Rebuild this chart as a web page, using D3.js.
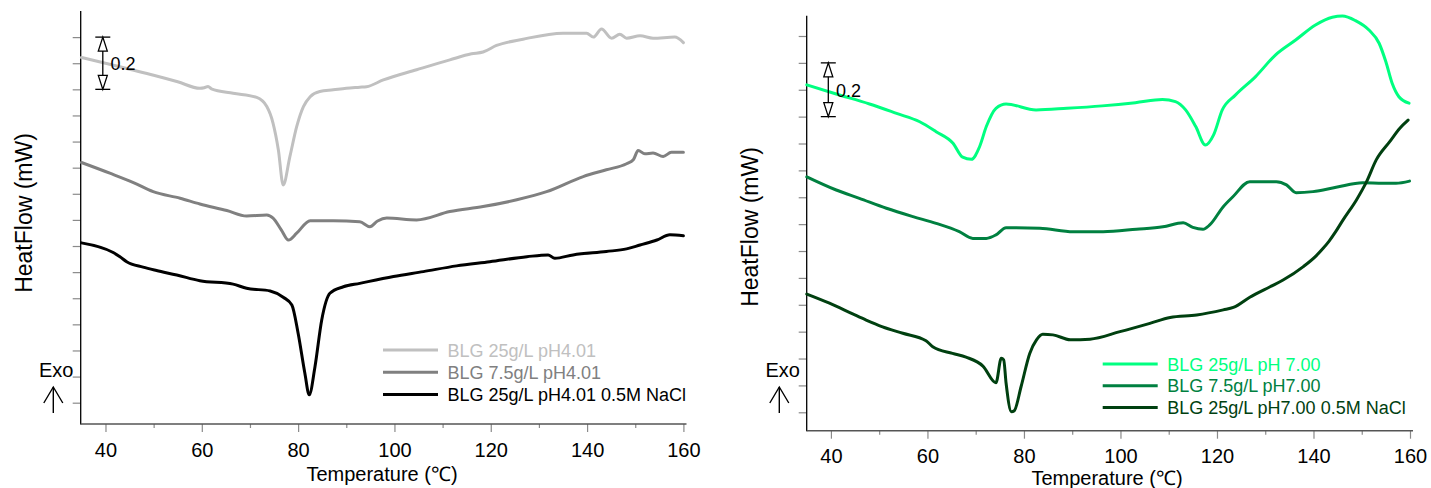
<!DOCTYPE html>
<html><head><meta charset="utf-8">
<script src="https://cdn.jsdelivr.net/npm/d3@7/dist/d3.min.js"></script>
<style>
html,body{margin:0;padding:0;background:#fff;}
svg{display:block;font-family:"Liberation Sans",Arial,sans-serif;}
</style></head>
<body>
<svg id="chart" width="1431" height="488"></svg>
<script>
// ---------- DATA ----------
const xTickLabels = [40, 60, 80, 100, 120, 140, 160];
const xMinorTicks = [50, 70, 90, 110, 130, 150];
const yTickValues = d3.range(0, 15).map(i => +(i * 0.1).toFixed(1));
const xTitle = "Temperature (℃)";
const yTitle = "HeatFlow (mW)";
const scaleBarLabel = "0.2";

const leftNames = ["BLG 25g/L pH4.01", "BLG 7.5g/L pH4.01", "BLG 25g/L pH4.01 0.5M NaCl"];
const rightNames = ["BLG 25g/L pH 7.00", "BLG 7.5g/L pH7.00", "BLG 25g/L pH7.00 0.5M NaCl"];

// [Temperature (°C), HeatFlow (mW, shifted)]
const ph4_25 = [[35,1.322],[40,1.300],[45,1.277],[50,1.254],[55,1.229],[59.6,1.204],[60.5,1.206],[61.3,1.211],[62,1.202],[66.5,1.185],[71.4,1.169],[73.5,1.134],[74.8,1.070],[75.9,0.968],[76.9,0.834],[78.3,0.943],[79.7,1.057],[81.1,1.134],[82.5,1.172],[84.5,1.192],[87.3,1.198],[90,1.204],[92.8,1.208],[94.2,1.210],[97.7,1.236],[104.6,1.275],[111.5,1.313],[116,1.336],[118.4,1.343],[121.2,1.368],[126.7,1.392],[135,1.415],[139.9,1.415],[141.3,1.400],[143,1.431],[145.1,1.396],[146.8,1.411],[148.2,1.396],[151,1.405],[153.7,1.396],[158.2,1.400],[160,1.379]];
const ph4_7_5 = [[35,0.920],[40.9,0.879],[45.8,0.843],[49.9,0.808],[55.5,0.783],[59.6,0.761],[65.2,0.736],[69.3,0.715],[73.5,0.719],[74.8,0.707],[76.5,0.662],[78,0.623],[79.7,0.649],[82.5,0.697],[87.3,0.697],[92.8,0.693],[94.9,0.674],[96.5,0.696],[98.4,0.707],[104.6,0.700],[111.5,0.732],[118.4,0.751],[125.4,0.777],[131.6,0.808],[139.2,0.866],[144,0.892],[148.2,0.915],[149.6,0.930],[150.6,0.966],[152,0.953],[153.7,0.956],[155.8,0.943],[157.5,0.959],[160,0.959]];
const ph4_25_nacl = [[35,0.612],[41.6,0.575],[43,0.559],[44.4,0.540],[47.8,0.519],[50.6,0.506],[54.8,0.489],[59.6,0.467],[66.5,0.454],[69.3,0.438],[74.2,0.428],[76.9,0.404],[78.7,0.374],[80,0.266],[81.4,0.113],[82.3,0.030],[83.5,0.138],[84.9,0.317],[86.6,0.419],[89.4,0.444],[92.8,0.457],[99.8,0.483],[106,0.502],[112.9,0.524],[119.8,0.540],[127.5,0.559],[131.9,0.566],[133.3,0.553],[137.1,0.566],[144,0.579],[148.2,0.589],[151,0.604],[154.5,0.623],[157.2,0.643],[160,0.639]];

const ph7_25 = [[35,1.218],[41.1,1.184],[48,1.147],[53.6,1.112],[58.4,1.081],[61.8,1.044],[65.3,1.001],[67.3,0.949],[69.1,0.941],[70.8,0.988],[72.2,1.063],[74.2,1.131],[76.3,1.147],[82.5,1.125],[88.9,1.131],[96.2,1.140],[103.1,1.152],[108.7,1.164],[111.4,1.156],[113.5,1.125],[115.6,1.063],[117.6,0.994],[119.3,1.032],[121.1,1.125],[123.8,1.180],[128,1.249],[132.1,1.329],[136.3,1.385],[140.4,1.441],[143.9,1.470],[146,1.474],[148.7,1.457],[151.5,1.422],[153.6,1.373],[155,1.304],[156.3,1.224],[157.7,1.174],[159.8,1.150]];
const ph7_7_5 = [[35,0.876],[41.1,0.827],[45.9,0.796],[51.5,0.759],[57,0.728],[61.8,0.703],[66.6,0.672],[69.4,0.647],[72.2,0.647],[74.2,0.660],[76.3,0.687],[83.3,0.685],[90.2,0.672],[96.4,0.672],[103.3,0.681],[108.8,0.690],[113,0.705],[115,0.688],[117.1,0.681],[118.5,0.697],[121.3,0.765],[123.3,0.802],[126.8,0.858],[132.3,0.858],[134.4,0.846],[136.4,0.817],[139.9,0.821],[144.7,0.837],[150.2,0.854],[154.4,0.852],[157.1,0.852],[159.9,0.860]];
const ph7_25_nacl = [[35,0.440],[39.7,0.406],[44.5,0.366],[47.3,0.343],[50.7,0.318],[54.9,0.294],[59.7,0.266],[61.1,0.244],[65.2,0.219],[68,0.205],[71.5,0.172],[74.2,0.110],[75.3,0.201],[75.8,0.195],[76.3,0.108],[77.4,0.002],[78,0.006],[79.4,0.095],[81.2,0.219],[82.6,0.269],[83.9,0.290],[86,0.288],[89.6,0.270],[93.7,0.272],[99.9,0.300],[106.1,0.331],[110.3,0.353],[115.8,0.362],[121.3,0.381],[123.4,0.390],[126.8,0.428],[131,0.467],[133.7,0.492],[137.9,0.542],[140.6,0.583],[142,0.610],[143.2,0.636],[144.6,0.672],[146.1,0.715],[148.9,0.790],[151,0.858],[153,0.939],[155.8,1.007],[157.9,1.057],[159.6,1.087]];

const leftColors = ["#c0c0c0", "#808080", "#000000"];
const rightColors = ["#00ff80", "#008040", "#004010"];

// ---------- LAYOUT ----------
const panels = [
  { series: [ph4_25, ph4_7_5, ph4_25_nacl], names: leftNames, colors: leftColors,
    xRange: [81.4, 683.4], yDomain: [-0.0816, 1.5], yRange: [424, 11], axisX: 80.7,
    xAxisEnd: 686.5, yTitleX: 32, yTitleY: 213, xTitleX: 382, xTitleY: 481,
    legX: 383, legY: 350, legGap: 22.2, legTextColors: ["#c0c0c0", "#808080", "#000000"],
    barX: 102.8, barTop: 1.4, barBot: 1.2, barLabelX: 110.5,
    exoX: 39, exoY: 376.7, arrX: 53.3 },
  { series: [ph7_25, ph7_7_5, ph7_25_nacl], names: rightNames, colors: rightColors,
    xRange: [806.8, 1410], yDomain: [-0.0685, 1.4755], yRange: [430.7, 15.7], axisX: 806.7,
    xAxisEnd: 1413, yTitleX: 758, yTitleY: 227, xTitleX: 1107, xTitleY: 484.5,
    legX: 1102.7, legY: 364, legGap: 21.8, legTextColors: ["#00ff80", "#008040", "#004010"],
    barX: 828.3, barTop: 1.3, barBot: 1.1, barLabelX: 836,
    exoX: 765.5, exoY: 376.7, arrX: 779.3 }
];

const svg = d3.select("#chart");

panels.forEach(p => {
  const g = svg.append("g");
  const x = d3.scaleLinear().domain([35, 160]).range(p.xRange);
  const y = d3.scaleLinear().domain(p.yDomain).range(p.yRange);
  const yBottom = p.yRange[0];

  // y ticks (no labels)
  const yAx = g.append("g").attr("transform", `translate(${p.axisX},0)`)
    .call(d3.axisLeft(y).tickValues(yTickValues).tickSize(8).tickFormat(""));
  yAx.select(".domain").remove();
  yAx.selectAll(".tick line").attr("stroke", "#8a8a8a").attr("stroke-width", 1.2);

  // x axis: major + minor ticks
  const xAx = g.append("g").attr("transform", `translate(0,${yBottom})`)
    .call(d3.axisBottom(x).tickValues(xTickLabels).tickSize(8).tickPadding(4).tickFormat(d3.format("d")));
  xAx.select(".domain").remove();
  xAx.selectAll(".tick line").attr("stroke", "#8a8a8a").attr("stroke-width", 1.2);
  xAx.selectAll(".tick text").attr("font-size", 20).attr("fill", "#000")
    .attr("font-family", "Liberation Sans, Arial, sans-serif")
    .attr("y", 32.7).attr("dy", null);
  const xMin = g.append("g").attr("transform", `translate(0,${yBottom})`)
    .call(d3.axisBottom(x).tickValues(xMinorTicks).tickSize(4).tickFormat(""));
  xMin.select(".domain").remove();
  xMin.selectAll(".tick line").attr("stroke", "#8a8a8a").attr("stroke-width", 1.2);

  // axis lines
  g.append("line").attr("x1", p.axisX).attr("x2", p.axisX)
    .attr("y1", p.yRange[1]).attr("y2", yBottom + 0.5)
    .attr("stroke", "#000").attr("stroke-width", 1.3);
  g.append("line").attr("x1", p.axisX).attr("x2", p.xAxisEnd)
    .attr("y1", yBottom).attr("y2", yBottom)
    .attr("stroke", "#555").attr("stroke-width", 1.5);

  // curves
  const line = d3.line().x(d => x(d[0])).y(d => y(d[1])).curve(d3.curveMonotoneX);
  p.series.forEach((s, i) => {
    g.append("path").datum(s).attr("d", line)
      .attr("fill", "none").attr("stroke", p.colors[i])
      .attr("stroke-width", 3).attr("stroke-linejoin", "round").attr("stroke-linecap", "round");
  });

  // legend
  p.names.forEach((n, i) => {
    const ly = p.legY + i * p.legGap;
    g.append("line").attr("x1", p.legX).attr("x2", p.legX + 55)
      .attr("y1", ly).attr("y2", ly).attr("stroke", p.colors[i]).attr("stroke-width", 3);
    g.append("text").attr("x", p.legX + 64.5).attr("y", ly + 6.5)
      .attr("font-size", 18).attr("fill", p.legTextColors[i]).text(n);
  });

  // scale bar 0.2
  const yt = y(p.barTop), yb = y(p.barBot), cx = p.barX;
  const bar = g.append("g").attr("stroke", "#000").attr("stroke-width", 1.3);
  bar.append("line").attr("x1", cx - 7.5).attr("x2", cx + 7.5).attr("y1", yt).attr("y2", yt);
  bar.append("line").attr("x1", cx - 7.5).attr("x2", cx + 7.5).attr("y1", yb).attr("y2", yb);
  bar.append("path").attr("d", `M${cx},${yt}L${cx - 4.5},${yt + 14}L${cx + 4.5},${yt + 14}Z`).attr("fill", "#fff");
  bar.append("path").attr("d", `M${cx},${yb}L${cx - 4.5},${yb - 14}L${cx + 4.5},${yb - 14}Z`).attr("fill", "#fff");
  bar.append("line").attr("x1", cx).attr("x2", cx).attr("y1", yt + 14).attr("y2", yb - 14);
  g.append("text").attr("x", p.barLabelX).attr("y", (yt + yb) / 2 + 7)
    .attr("font-size", 18).attr("fill", "#000").text(scaleBarLabel);

  // Exo arrow
  g.append("text").attr("x", p.exoX).attr("y", p.exoY).attr("font-size", 20).attr("fill", "#000").text("Exo");
  const a = g.append("g").attr("stroke", "#000").attr("stroke-width", 1.4).attr("fill", "none");
  a.append("line").attr("x1", p.arrX).attr("x2", p.arrX).attr("y1", 387).attr("y2", 413);
  a.append("path").attr("d", `M${p.arrX - 9.5},403L${p.arrX},387L${p.arrX + 9.5},403`);

  // titles
  g.append("text").attr("transform", `translate(${p.yTitleX},${p.yTitleY}) rotate(-90)`)
    .attr("text-anchor", "middle").attr("font-size", 23).attr("fill", "#000").text(yTitle);
  g.append("text").attr("x", p.xTitleX).attr("y", p.xTitleY)
    .attr("text-anchor", "middle").attr("font-size", 20).attr("fill", "#000").text(xTitle);
});
</script>
</body></html>
